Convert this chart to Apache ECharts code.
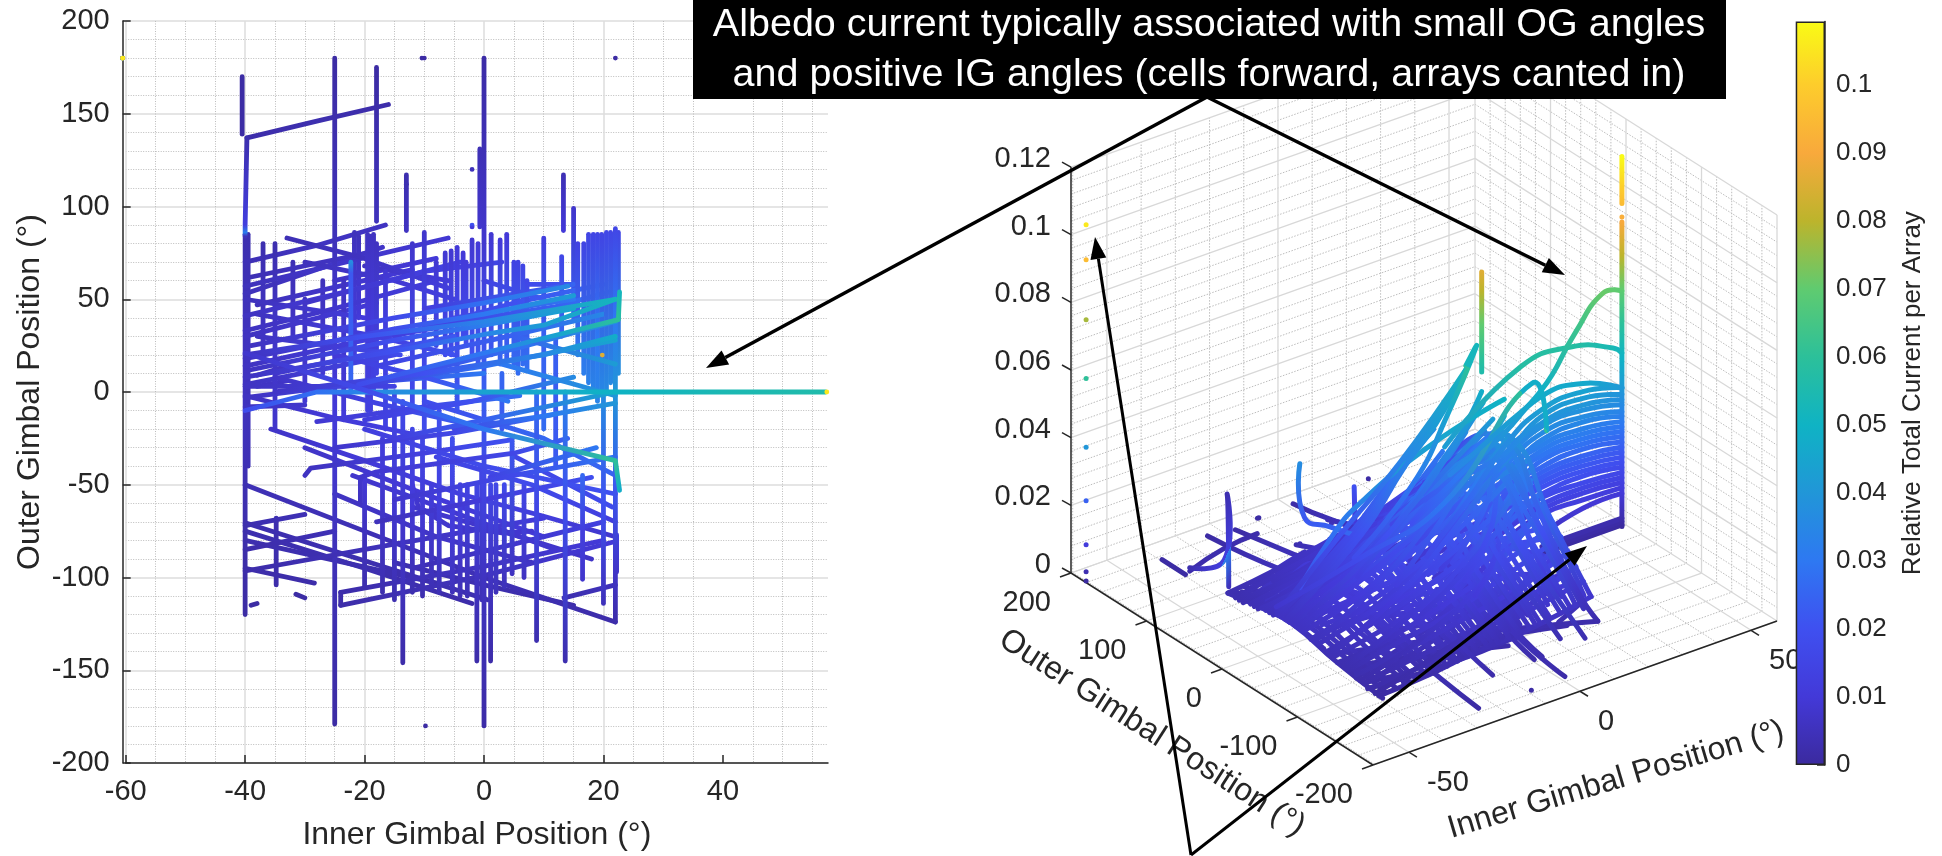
<!DOCTYPE html>
<html>
<head>
<meta charset="utf-8">
<script src="https://cdn.jsdelivr.net/npm/echarts@6/dist/echarts.min.js"></script>
<style>
html,body{margin:0;padding:0;background:#fff;}
#main{width:1942px;height:856px;}
</style>
</head>
<body>
<div id="main"></div>
<script>
var FONT = '"Liberation Sans", Arial, sans-serif';

// colorbar, one colour per 0.01 of current, last one at the top of the bar
var colorbarTicks = [0,0.01,0.02,0.03,0.04,0.05,0.06,0.07,0.08,0.09,0.1,0.1094];
var colorbarColors = ['#3b2a9e','#4339d8','#3f50f0','#2e78f2','#2196d8','#0fb3c4','#2cc09a','#5fcb70','#bcb42c','#f8a93c','#fdcc2c','#f9fb15'];

// 3d axes
var igRange = [-60.5,57.6];
var ogRange = [-200,200];
var zTop = 0.12;
var igTickLabels = [-50,0,50];
var ogTickLabels = [-200,-100,0,100,200];
var zTickLabels = [0,0.02,0.04,0.06,0.08,0.1,0.12];
var igMinor = [-60,-40,-30,-20,-10,10,20,30,40];
var ogMinor = [-180,-160,-140,-120,-80,-60,-40,-20,20,40,60,80,120,140,160,180];
var zMinor = [0.004,0.008,0.012,0.016,0.024,0.028,0.032,0.036,0.044,0.048,0.052,0.056,0.064,0.068,0.072,0.076,0.084,0.088,0.092,0.096,0.104,0.108,0.112,0.116];

// every trace is a list of [inner gimbal, outer gimbal, current]
var verticalTraces = [
  [[-40,85,.003],[-40,40,.005],[-40,0,.006],[-40,-60,.003],[-40,-120,.001]],
  [[-39.5,85,.003],[-39.5,20,.006],[-39.5,-40,.004]],
  [[-40.5,170,.001],[-40.5,139,.001]],
  [[-39.7,137,.003],[-40,90,.012],[-40,86,.032],[-40,84,.005]],
  [[-37,80,.003],[-37,50,.005],[-37,20,.007]],
  [[-35,80,.003],[-35,30,.007],[-35,-20,.008]],
  [[-34.8,-68,.003],[-34.8,-104,.002]],
  [[-32,70,.004],[-32,30,.007]],
  [[-30,50,.006],[-30,-5,.009]],
  [[-27,60,.005],[-27,10,.009]],
  [[-25,180,.001],[-25,80,.005],[-25,30,.009],[-25,-20,.01],[-25,-80,.005],[-25,-179,.001]],
  [[-23.5,60,.006],[-23.5,-15,.011]],
  [[-22.3,70,.037],[-22.3,64,.022],[-22.3,30,.024],[-22.3,0,.026]],
  [[-21.7,86,.005],[-21.7,50,.009],[-21.7,20,.012]],
  [[-21,84,.005],[-21,40,.01]],
  [[-20,-45,.01],[-20,-80,.005],[-20,-105,.003]],
  [[-19.5,85,.006],[-19.5,40,.01],[-19.5,-10,.013]],
  [[-19,84,.006],[-19,40,.01],[-19,-10,.013]],
  [[-18.5,85,.006],[-18.5,40,.011],[-18.5,0,.014]],
  [[-18,175,.001],[-18,92,.005]],
  [[-18,80,.006],[-18,10,.014]],
  [[-17,-25,.012],[-17,-80,.006],[-17,-108,.003]],
  [[-16.5,65,.009],[-16.5,20,.014],[-16.5,-20,.014]],
  [[-15,0,.016],[-15,-60,.009],[-15,-112,.003]],
  [[-13.6,-5,.017],[-13.6,-70,.008],[-13.6,-146,.002]],
  [[-13,117,.003],[-13,87,.006]],
  [[-12,80,.008],[-12,30,.015],[-12,-10,.018]],
  [[-12,-20,.016],[-12,-60,.01],[-12,-108,.003]],
  [[-10.3,-25,.016],[-10.3,-70,.009],[-10.3,-110,.003]],
  [[-10,86,.008],[-10,30,.016],[-10,-20,.018]],
  [[-8.8,-50,.012],[-8.8,-106,.004]],
  [[-8,70,.009],[-8,25,.016]],
  [[-7.5,-10,.02],[-7.5,-60,.012],[-7.5,-108,.004]],
  [[-6.5,75,.009],[-6.5,20,.017]],
  [[-5.5,76,.009],[-5.5,20,.018]],
  [[-5.3,-25,.019],[-5.3,-70,.011],[-5.3,-108,.005]],
  [[-4.5,78,.01],[-4.5,30,.017],[-4.5,-10,.022]],
  [[-4,-50,.014],[-4,-80,.009],[-4,-110,.004]],
  [[-3.5,75,.01],[-3.5,30,.018]],
  [[-3,70,.011],[-3,25,.019]],
  [[-2.8,-50,.014],[-2.8,-110,.004]],
  [[-2,82,.009],[-2,20,.02]],
  [[-1.2,-50,.015],[-1.2,-100,.006],[-1.2,-145,.002]],
  [[-1,80,.01],[-1,15,.022]],
  [[-.7,131,.004],[-.7,89,.008]],
  [[-.4,-40,.016],[-.4,-112,.004]],
  [[0,180,.0015],[0,130,.004],[0,85,.008],[0,40,.018],[0,0,.024],[0,-50,.015],[0,-100,.006],[0,-180,.0015]],
  [[1.1,-50,.016],[1.1,-100,.006],[1.1,-145,.002]],
  [[1.2,85,.009],[1.2,20,.022]],
  [[2,-50,.016],[2,-108,.005]],
  [[2.7,82,.01],[2.7,15,.025]],
  [[3,-20,.022],[3,10,.026]],
  [[3.4,-50,.017],[3.4,-105,.005]],
  [[3.8,85,.01],[3.8,18,.024]],
  [[4.7,-25,.022],[4.7,-98,.006]],
  [[5,70,.014],[5,15,.026]],
  [[5.7,70,.014],[5.7,10,.027]],
  [[6.5,68,.015],[6.5,15,.027]],
  [[6.7,-50,.016],[6.7,-100,.006]],
  [[7.2,60,.016],[7.2,12,.028]],
  [[8.8,0,.027],[8.8,-60,.016],[8.8,-134,.003]],
  [[10,83,.012],[10,30,.024],[10,-20,.027]],
  [[12,30,.024],[12,-40,.022]],
  [[13,73,.016],[13,30,.026]],
  [[13.3,117,.004],[13.3,87,.01]],
  [[13.6,0,.033],[13.6,-60,.019],[13.6,-145,.003]],
  [[15,99,.008],[15,40,.024]],
  [[15.7,80,.014],[15.7,20,.03]],
  [[16.5,-45,.026],[16.5,-73,.013],[16.5,-101,.008]],
  [[16.7,80,.015],[16.7,10,.032]],
  [[17.5,85,.015],[17.5,5,.033]],
  [[18.3,85,.015],[18.3,0,.034]],
  [[19,85,.015],[19,30,.03],[19,-5,.034]],
  [[19.7,85,.015],[19.7,0,.035]],
  [[20,0,.037],[20,-60,.02],[20,-114,.005]],
  [[20.5,86,.016],[20.5,0,.036]],
  [[21.2,86,.016],[21.2,5,.036]],
  [[22,88,.016],[22,40,.03],[22,0,.04],[22,-50,.022],[22,-97,.007],[22,-124,.002]],
  [[22.5,86,.016],[22.5,10,.038]],
  [[22.2,-77,.012],[22.2,-97,.007]],
  [[-2,90,.02],[-2,89,.01]]
];

var risingTraces = [
  [[-39.7,137,.002],[-28,146,.003],[-16,155,.002]],
  [[-40,70,.004],[-28,79,.006],[-16.5,90,.006]],
  [[-40,57,.005],[-22,71,.008],[-6,83,.009]],
  [[-40,53,.005],[-17,78,.007]],
  [[-39,62,.004],[-18,76,.007]],
  [[-38,47,.005],[-12,66,.01]],
  [[-40,41,.006],[-22,55,.011],[-4,70,.014]],
  [[-40,33,.006],[-25,45,.008],[-8,60,.012]],
  [[-40,30,.006],[-18,48,.01]],
  [[-30,48,.007],[-10,65,.012],[3,70,.015]],
  [[-25,60,.007],[-8,72,.01]],
  [[-39,25,.006],[-15,40,.017],[0,48,.028],[14,57,.036]],
  [[-40,18,.006],[-15,34,.018],[0,42,.03],[15,52,.042]],
  [[-39,12,.006],[-15,28,.019],[0,36,.032],[15,45,.046]],
  [[-40,14,.006],[-20,28,.012],[-2,38,.02]],
  [[-40,8,.006],[-15,22,.02],[0,31,.034],[10,36,.042],[22,50,.052]],
  [[-40,20,.006],[-20,30,.02],[0,38,.034],[22,50,.052]],
  [[-40,4,.006],[-15,20,.016]],
  [[-35,10,.008],[-20,20,.016],[-5,30,.022]],
  [[-15,30,.012],[5,48,.02],[20,58,.027]],
  [[-18,14,.014],[4,30,.024],[20,42,.035]],
  [[-14,8,.016],[6,24,.028],[22,38,.04]],
  [[-8,36,.014],[12,46,.024],[21,54,.03]],
  [[-10,45,.012],[15,58,.025]],
  [[-5,40,.015],[15,50,.03]],
  [[7,58,.018],[15,58,.02]],
  [[-38,9,.006],[-33,14,.007]],
  [[-38,3,.006],[-33,6,.007]],
  [[-40,3,.006],[-15,3,.014]],
  [[-40,-8,.006],[-30,-7,.008]],
  [[-40,-3,.006],[-20,5,.016],[0,10,.03]],
  [[-35,0,.007],[-10,10,.02],[10,20,.035],[22,30,.048]],
  [[-20,4,.012],[0,14,.028],[22,28,.045]],
  [[-20,-15,.012],[-2,-5,.02],[15,8,.036]],
  [[-28,-16,.009],[-10,-8,.016],[6,-2,.028]],
  [[-25,-30,.008],[-5,-22,.016],[12,-12,.028]],
  [[-30,-45,.006],[-29,-41,.006],[-10,-33,.013],[4.3,-26,.02]],
  [[-20.7,-60,.006],[-20.7,-46,.008],[-18,-43,.009],[5,-33,.016],[14,-25,.024]],
  [[1,-46,.014],[18.8,-30,.03]],
  [[-18,-70,.005],[0,-58,.011],[18,-46,.019]],
  [[-12,-95,.004],[5,-82,.008],[20,-70,.013]],
  [[-40,-72,.003],[-30,-66,.004]],
  [[-40,-85,.002],[-25,-75,.004]],
  [[-40,-96.5,.002],[-15,-82,.005],[10,-68,.011]],
  [[-24,-108,.002],[0,-94,.006],[20,-80,.01]],
  [[-24,-115,.002],[0,-99,.005],[21.5,-81,.01]],
  [[-24,-108,.002],[-24,-115,.002]],
  [[13.4,-111,.003],[22,-104,.005]],
  [[-15,-58,.008],[5,-45,.017],[22,-35,.03]],
  [[-5,-20,.016],[10,-13,.03],[22,-6,.04]],
  [[-15,-25,.012],[0,-15,.024],[22,0,.045]]
];

var fallingTraces = [
  [[-33,83,.004],[-20,72,.006],[-6,56,.012]],
  [[-30,70,.005],[-15,60,.009],[-5,50,.013]],
  [[-20,68,.006],[-6,60,.011]],
  [[0,60,.014],[10,50,.022]],
  [[-40,50,.005],[-20,40,.011]],
  [[-38,42,.006],[-18,30,.012],[-5,20,.02]],
  [[-38,30,.006],[-14,20,.018]],
  [[-25,20,.01],[-10,8,.02],[4,-5,.03]],
  [[5,30,.024],[22,15,.042]],
  [[-35,8,.007],[-18,-6,.014],[-2,-18,.024]],
  [[-40,-2,.006],[-25,-14,.01],[-10,-24,.014]],
  [[-35.7,-20,.007],[-20,-37,.01],[-4,-55,.012],[10,-67,.012],[22,-78,.008]],
  [[-8,-35,.014],[8,-50,.018],[22,-70,.012]],
  [[-25,-55,.006],[-8,-78,.007],[8,-92,.006]],
  [[-22,-45,.008],[-5,-65,.009],[12,-85,.008]],
  [[-15,-92,.003],[0,-104,.003],[15,-115,.002]],
  [[-40,-50,.004],[-20,-75,.004],[0,-100,.004],[22,-124,.002]],
  [[-40,-70.5,.003],[-20,-91,.003],[.6,-112,.003]],
  [[-40,-75,.003],[-20,-95,.003],[-2,-114,.002]],
  [[-40,-80,.003],[-6.6,-104,.003]],
  [[-40,-95,.002],[-28.4,-103,.002]],
  [[4.7,-34,.016],[21.5,-62,.018]],
  [[3,15,.03],[22,-2,.04]],
  [[-10,-5,.018],[10,-25,.026],[22,-45,.025]],
  [[-20,-20,.012],[0,-40,.018],[22,-55,.02]],
  [[-30,-30,.007],[-10,-55,.01],[10,-78,.01]],
  [[-12,-62,.008],[5,-77,.008],[18,-90,.007]],
  [[-12,-50,.01],[-11,-62,.008],[-6,-72,.008],[3,-76,.008],[8,-75,.009]],
  [[-31.5,-109,.001],[-30,-111,.001]],
  [[-39,-115,.001],[-38,-114,.001]]
];

// the bright lines, both panels
var brightTraces = [
  [[-40,-10,.018],[-28,0,.028],[-21,0,.034],[0,0,.044],[22,0,.05]],
  [[-21,4,.018],[0,21,.03],[12.5,31,.045],[22.5,39,.06],[22.7,54,.052]],
  [[-40,21,.008],[-20,1,.018],[0,-20,.03],[22,-37,.06],[22.7,-53,.048]],
  [[19.8,19.9,.0856],[19.8,19.9,.08],[19.8,19.9,.07],[19.8,19.9,.06],[19.8,19.9,.056]]
];

// single points
var lonePoints = [
  [-13,112,.004],[-10,180,.001],[-10.4,180,.001],[-2,120,.005],[22,180,.001],[-9.8,-180,.001]
];

// points on the far corner of the first plot, stacked in the second
var cornerCurrents = [.0005,.0032,.0112,.0242,.04,.0603,.0777,.0954,.1058];

// second panel only: passes along the inner gimbal, og read at each pass
var igPasses = [
  [[-40,-115,.001],[-25,-115,.002],[-10,-115,.004],[5,-115,.005],[22,-115,.008]],
  [[-40,-105,.002],[-25,-105,.003],[-10,-105,.005],[5,-105,.008],[22,-105,.011]],
  [[-40,-95,.002],[-25,-95,.004],[-10,-95,.006],[5,-95,.009],[22,-95,.014]],
  [[-40,-85,.003],[-25,-85,.005],[-10,-85,.008],[5,-85,.011],[22,-85,.017]],
  [[-40,-75,.003],[-25,-75,.006],[-10,-75,.009],[5,-75,.014],[22,-75,.02]],
  [[-40,-65,.003],[-25,-65,.006],[-10,-65,.01],[5,-65,.015],[22,-65,.022]],
  [[-40,-55,.004],[-25,-55,.007],[-10,-55,.011],[5,-55,.017],[22,-55,.025]],
  [[-40,-45,.004],[-25,-45,.008],[-10,-45,.013],[5,-45,.019],[22,-45,.028]],
  [[-40,-35,.005],[-25,-35,.009],[-10,-35,.014],[5,-35,.021],[22,-35,.031]],
  [[-40,-25,.005],[-25,-25,.009],[-10,-25,.015],[5,-25,.023],[22,-25,.034]],
  [[-40,-15,.006],[-25,-15,.01],[-10,-15,.017],[5,-15,.025],[22,-15,.037]],
  [[-40,-5,.006],[-25,-5,.011],[-10,-5,.018],[5,-5,.026],[22,-5,.039]],
  [[-40,5,.006],[-25,5,.011],[-10,5,.018],[5,5,.026],[22,5,.039]],
  [[-40,15,.006],[-25,15,.01],[-10,15,.017],[5,15,.025],[22,15,.037]],
  [[-40,25,.005],[-25,25,.009],[-10,25,.015],[5,25,.023],[22,25,.034]],
  [[-40,35,.005],[-25,35,.009],[-10,35,.014],[5,35,.021],[22,35,.031]],
  [[-40,45,.004],[-25,45,.008],[-10,45,.013],[5,45,.019],[22,45,.028]],
  [[-40,55,.004],[-25,55,.007],[-10,55,.011],[5,55,.017],[22,55,.025]],
  [[-40,65,.003],[-25,65,.006],[-10,65,.01],[5,65,.015],[22,65,.022]],
  [[-40,75,.003],[-25,75,.006],[-10,75,.009],[5,75,.014],[22,75,.02]],
  [[-40,85,.003],[-25,85,.005],[-10,85,.008],[5,85,.011],[22,85,.017]],
  [[-40,-110,.001],[-20,-98,.003],[0,-86,.007],[22,-72,.018]],
  [[-40,-90,.002],[-20,-78,.005],[0,-66,.012],[22,-52,.026]],
  [[-40,-70,.003],[-20,-58,.008],[0,-46,.016],[22,-32,.033]],
  [[-40,-50,.004],[-20,-38,.01],[0,-26,.021],[22,-12,.038]],
  [[-40,-30,.005],[-20,-18,.012],[0,-6,.024],[22,8,.04]],
  [[-40,-12,.006],[-20,0,.014],[0,12,.025],[22,26,.037]],
  [[-40,10,.006],[-20,22,.013],[0,34,.023],[22,48,.031]],
  [[-40,30,.005],[-20,42,.011],[0,54,.018],[22,68,.024]],
  [[-40,50,.004],[-20,62,.008],[0,74,.013],[22,85,.017]],
  [[-40,-100,.001],[-20,-110,.002],[0,-115,.004]],
  [[-40,-60,.003],[-20,-72,.006],[0,-84,.009],[22,-100,.01]],
  [[-40,-25,.005],[-20,-37,.01],[0,-49,.015],[22,-65,.02]],
  [[-40,10,.006],[-20,-2,.014],[0,-14,.026],[22,-30,.036]],
  [[-40,40,.005],[-20,28,.012],[0,16,.026],[22,0,.04]],
  [[-40,70,.003],[-20,58,.008],[0,46,.017],[22,30,.033]]
];
// second panel only: passes along the outer gimbal
var ogPasses = [
  [[-38,-115,.0013],[-38,-60,.004],[-38,-10,.0065],[-38,40,.005],[-38,85,.0027]],
  [[-35,-115,.0015],[-35,-60,.0045],[-35,-10,.0075],[-35,40,.0056],[-35,85,.003]],
  [[-32,-115,.0017],[-32,-60,.005],[-32,-10,.0085],[-32,40,.0064],[-32,85,.0036]],
  [[-29,-115,.002],[-29,-60,.0057],[-29,-10,.0095],[-29,40,.007],[-29,85,.004]],
  [[-26,-115,.002],[-26,-60,.0063],[-26,-10,.0105],[-26,40,.008],[-26,85,.0044]],
  [[-23,-115,.0024],[-23,-60,.0072],[-23,-10,.012],[-23,40,.009],[-23,85,.005]],
  [[-20,-115,.0026],[-20,-60,.0078],[-20,-10,.013],[-20,40,.01],[-20,85,.0055]],
  [[-17,-115,.003],[-17,-60,.009],[-17,-10,.015],[-17,40,.011],[-17,85,.0063]],
  [[-14,-115,.0032],[-14,-60,.0096],[-14,-10,.016],[-14,40,.012],[-14,85,.0067]],
  [[-11,-115,.0036],[-11,-60,.011],[-11,-10,.018],[-11,40,.0135],[-11,85,.0076]],
  [[-8,-115,.004],[-8,-60,.012],[-8,-10,.02],[-8,40,.015],[-8,85,.0084]],
  [[-5,-115,.0042],[-5,-60,.0126],[-5,-10,.021],[-5,40,.016],[-5,85,.0088]],
  [[-2,-115,.0046],[-2,-60,.014],[-2,-10,.023],[-2,40,.017],[-2,85,.0097]],
  [[1,-115,.005],[1,-60,.015],[1,-10,.025],[1,40,.019],[1,85,.0105]],
  [[4,-115,.0054],[4,-60,.016],[4,-10,.027],[4,40,.02],[4,85,.011]],
  [[7,-115,.0058],[7,-60,.0174],[7,-10,.029],[7,40,.022],[7,85,.012]],
  [[10,-115,.006],[10,-60,.018],[10,-10,.03],[10,40,.0225],[10,85,.0126]],
  [[13,-115,.0064],[13,-60,.019],[13,-10,.032],[13,40,.024],[13,85,.0134]],
  [[16,-115,.0068],[16,-60,.02],[16,-10,.034],[16,40,.0255],[16,85,.014]],
  [[19,-115,.0072],[19,-60,.0216],[19,-10,.036],[19,40,.027],[19,85,.015]],
  [[22,-115,.008],[22,-60,.024],[22,-10,.04],[22,40,.03],[22,85,.017]],
  [[-36.5,-90,.002],[-36.5,-30,.006],[-36.5,30,.006],[-36.5,75,.003]],
  [[-30.5,-110,.002],[-30.5,-40,.007],[-30.5,20,.008],[-30.5,70,.004]],
  [[-24.5,-100,.003],[-24.5,-35,.009],[-24.5,25,.01],[-24.5,80,.005]],
  [[-18.5,-115,.003],[-18.5,-45,.011],[-18.5,15,.014],[-18.5,80,.006]],
  [[-12.5,-105,.004],[-12.5,-35,.014],[-12.5,20,.016],[-12.5,75,.008]],
  [[-6.5,-115,.004],[-6.5,-40,.016],[-6.5,15,.02],[-6.5,80,.009]],
  [[-.5,-108,.005],[-.5,-45,.018],[-.5,10,.024],[-.5,75,.012]],
  [[5.5,-115,.006],[5.5,-40,.021],[5.5,15,.027],[5.5,80,.012]],
  [[11.5,-105,.008],[11.5,-35,.025],[11.5,20,.03],[11.5,80,.014]],
  [[17.5,-115,.007],[17.5,-45,.026],[17.5,10,.035],[17.5,80,.016]],
  [[21,-110,.008],[21,-40,.029],[21,15,.038],[21,85,.017]]
];
// second panel only: the arcs that run into the spike at og 0
var spikeTrace = [[56.4,0,.1094],[56.4,0,.1],[56.4,0,.0955]];
var spikeMainTrace = [[56.4,0,.09],[56.4,0,.08],[56.4,0,.07],[56.4,0,.06],[56.4,0,.05],[56.4,0,.04],[56.4,0,.03],[56.4,0,.02],[56.4,0,.01],[56.4,0,0]];
var spikeDot = [[56.4,0,.0915]];
var sweepArcs = [
  [[6.1,0,.0334],[20.8,0,.0414],[32.9,0,.0488],[42.7,0,.0621],[50.9,0,.071],[56.4,0,.0696]],
  [[4.6,0,.0422],[26.9,0,.0579],[41.8,0,.0584],[53.8,0,.0537],[56.4,0,.0513]],
  [[-2,14,.02],[10,8,.03],[22,0,.04],[33,0,.047],[45,0,.0464],[56.4,0,.041]],
  [[-2,-14,.017],[10,-8,.026],[22,0,.036],[33,0,.043],[45,0,.044],[56.4,0,.041]],
  [[-2,40,.016],[10,25,.025],[22,0,.034],[33,0,.041],[45,0,.042],[56.4,0,.039]],
  [[-2,-40,.016],[10,-25,.024],[22,0,.033],[33,0,.039],[45,0,.04],[56.4,0,.0375]],
  [[-2,8,.015],[10,5,.023],[22,0,.032],[33,0,.038],[45,0,.0385],[56.4,0,.036]],
  [[-2,-8,.014],[10,-5,.022],[22,0,.03],[33,0,.036],[45,0,.0365],[56.4,0,.034]],
  [[-2,56,.014],[10,35,.021],[22,0,.029],[33,0,.034],[45,0,.035],[56.4,0,.0325]],
  [[-2,-56,.013],[10,-35,.02],[22,0,.027],[33,0,.0325],[45,0,.033],[56.4,0,.031]],
  [[-2,25,.012],[10,15,.019],[22,0,.026],[33,0,.031],[45,0,.0315],[56.4,0,.0295]],
  [[-2,-25,.012],[10,-15,.018],[22,0,.025],[33,0,.0295],[45,0,.03],[56.4,0,.028]],
  [[-2,70,.011],[10,45,.017],[22,0,.023],[33,0,.028],[45,0,.0285],[56.4,0,.0265]],
  [[-2,-70,.0105],[10,-45,.016],[22,0,.022],[33,0,.026],[45,0,.027],[56.4,0,.025]],
  [[-2,32,.01],[10,20,.015],[22,0,.021],[33,0,.0245],[45,0,.025],[56.4,0,.0235]],
  [[-2,-32,.009],[10,-20,.014],[22,0,.019],[33,0,.023],[45,0,.0235],[56.4,0,.022]],
  [[-2,16,.0085],[10,10,.013],[22,0,.018],[33,0,.0215],[45,0,.022],[56.4,0,.0205]],
  [[-2,-16,.008],[10,-10,.012],[22,0,.017],[33,0,.02],[45,0,.0205],[56.4,0,.019]],
  [[-2,48,.0075],[10,30,.011],[22,0,.015],[33,0,.018],[45,0,.019],[56.4,0,.0175]],
  [[-2,-48,.007],[10,-30,.01],[22,0,.014],[33,0,.017],[45,0,.017],[56.4,0,.016]],
  [[-2,22,.006],[10,14,.009],[22,0,.013],[33,0,.015],[45,0,.0155],[56.4,0,.0145]],
  [[-2,-22,.0055],[10,-14,.0085],[22,0,.011],[33,0,.0135],[45,0,.014],[56.4,0,.013]],
  [[22,0,.008],[33,0,.012],[45,0,.012],[56.4,0,.0115]],
  [[33,0,.006],[45,0,.0095],[56.4,0,.0098]],
  [[33,0,.0025],[56.4,0,.0025]],
  [[33,0,.0015],[56.4,0,.0015]],
  [[33,0,.0005],[56.4,0,.0005]]
];

// first panel only: the og 0 tail out to the stop
var tailTrace = [[22,0,.05],[40,0,.054],[57.2,0,.056]];
var tailEnd = [[57.4,0,.1058]];

function colorOf(z){
  for (var i=0;i<colorbarTicks.length-1;i++){
    if (z<=colorbarTicks[i+1]){
      var t=(z-colorbarTicks[i])/(colorbarTicks[i+1]-colorbarTicks[i]);
      return echarts.color.lerp(Math.max(t,0),[colorbarColors[i],colorbarColors[i+1]]);
    }
  }
  return colorbarColors[colorbarColors.length-1];
}

// axis pitch of the second panel, in units of its hidden grid
var igStep = [3.421,1.219], ogStep = [-0.755,0.48], zStep = 3383;
function project(ig,og,z){
  var a=ig-igRange[0], b=og-ogRange[0];
  return [a*igStep[0]+b*ogStep[0], a*igStep[1]+b*ogStep[1]+z*zStep];
}

function peak(tr){ return Math.max.apply(null,tr.map(function(p){return p[2];})); }
function byPeak(a,b){ return peak(a)-peak(b); }

var sharedTraces = verticalTraces.concat(risingTraces,fallingTraces,brightTraces,
  lonePoints.map(function(p){return [p];}),
  cornerCurrents.map(function(c){return [[-60.5,180,c]];}));

var leftTraces = sharedTraces.concat([tailTrace,tailEnd]).sort(byPeak);
var rightTraces = sharedTraces.concat(igPasses,ogPasses,sweepArcs,[spikeTrace,spikeMainTrace,spikeDot]).sort(byPeak);

// one smooth polyline per trace, coloured along its length by current
function traceRenderer(traces,view,width,smooth){
  return function(params,api){
    var tr=traces[params.dataIndex];
    var pts=tr.map(function(p){ return api.coord(view(p)); });
    var p0=pts[0], pn=pts[pts.length-1];
    var dx=pn[0]-p0[0], dy=pn[1]-p0[1], len2=dx*dx+dy*dy;
    if (len2<2){
      return {type:'circle',shape:{cx:p0[0],cy:p0[1],r:width/2},style:{fill:colorOf(peak(tr))}};
    }
    var last=0;
    var stops=pts.map(function(q,i){
      var t=((q[0]-p0[0])*dx+(q[1]-p0[1])*dy)/len2;
      last=Math.min(1,Math.max(last,t));
      return {offset:last,color:colorOf(tr[i][2])};
    });
    return {type:'polyline',shape:{points:pts,smooth:smooth},style:{
      lineWidth:width,lineCap:'round',lineJoin:'round',fill:null,
      stroke:new echarts.graphic.LinearGradient(p0[0],p0[1],pn[0],pn[1],stops,true)
    }};
  };
}
function topView(p){ return [p[0],p[1]]; }
function sideView(p){ return project(p[0],p[1],p[2]); }

// walls and floor of the second panel
var frameSegs=[];
function addFrame(p,q,kind){
  var a=project(p[0],p[1],p[2]), b=project(q[0],q[1],q[2]);
  frameSegs.push([a[0],a[1],b[0],b[1],kind]);
}
function addIg(list,kind){ list.forEach(function(v){
  addFrame([v,ogRange[0],0],[v,ogRange[1],0],kind);
  addFrame([v,ogRange[1],0],[v,ogRange[1],zTop],kind);
}); }
function addOg(list,kind){ list.forEach(function(v){
  addFrame([igRange[0],v,0],[igRange[1],v,0],kind);
  addFrame([igRange[1],v,0],[igRange[1],v,zTop],kind);
}); }
function addZ(list,kind){ list.forEach(function(v){
  addFrame([igRange[0],ogRange[1],v],[igRange[1],ogRange[1],v],kind);
  addFrame([igRange[1],ogRange[1],v],[igRange[1],ogRange[0],v],kind);
}); }
addIg(igMinor,1); addOg(ogMinor,1); addZ(zMinor,1);
addIg(igTickLabels,0); addOg(ogTickLabels,0); addZ(zTickLabels,0);
addFrame([igRange[0],ogRange[1],0],[igRange[0],ogRange[1],zTop],2);
addFrame([igRange[0],ogRange[1],0],[igRange[0],ogRange[0],0],2);
addFrame([igRange[0],ogRange[0],0],[igRange[1],ogRange[0],0],2);

// tick marks and tick labels of the second panel
var frameTicks=[];
zTickLabels.forEach(function(v){ frameTicks.push({at:project(igRange[0],ogRange[1],v),dx:-9,dy:-5,text:String(v),tx:-20,ty:-8,align:'right'}); });
ogTickLabels.forEach(function(v){ frameTicks.push({at:project(igRange[0],v,0),dx:-11,dy:4,text:String(v),tx:-20,ty:30,align:'right'}); });
igTickLabels.forEach(function(v){ frameTicks.push({at:project(v,ogRange[0],0),dx:8,dy:5,text:String(v),tx:18,ty:31,align:'left'}); });

function arrow(x1,y1,x2,y2,w){
  var d=Math.sqrt((x2-x1)*(x2-x1)+(y2-y1)*(y2-y1)), ux=(x2-x1)/d, uy=(y2-y1)/d, len=22, hw=8;
  var bx=x2-ux*len, by=y2-uy*len;
  return [
    {type:'line',z:100,shape:{x1:x1,y1:y1,x2:bx,y2:by},style:{stroke:'#000',lineWidth:w}},
    {type:'polygon',z:100,shape:{points:[[x2,y2],[bx-uy*hw,by+ux*hw],[bx+uy*hw,by-ux*hw]]},style:{fill:'#000'}}
  ];
}

var axisColor='#262626';
var labelStyle={color:axisColor,fontSize:29,fontFamily:FONT};
var nameStyle={color:axisColor,fontSize:32,fontFamily:FONT};

var option={
  backgroundColor:'#fff',
  animation:false,
  grid:[
    {left:125.7,top:21,width:702.3,height:745},
    {left:1071,top:23,width:706,height:742},
    {left:1795.7,top:21.4,width:29.3,height:743.6}
  ],
  xAxis:[
    {type:'value',gridIndex:0,min:-60,max:57.6,interval:20,
     name:'Inner Gimbal Position (°)',nameLocation:'middle',nameGap:56,nameTextStyle:nameStyle,
     nameMoveOverlap:false,
     axisLine:{show:true,onZero:false,lineStyle:{color:axisColor,width:1.5}},
     axisTick:{show:true,inside:true,length:8,lineStyle:{color:axisColor,width:1.5},customValues:[-60,-40,-20,0,20,40]},
     axisLabel:Object.assign({margin:14,customValues:[-60,-40,-20,0,20,40]},labelStyle),
     splitLine:{show:true,showMaxLine:false,lineStyle:{color:'#dcdcdc',width:1.5}},
     minorTick:{show:false,splitNumber:4},
     minorSplitLine:{show:true,lineStyle:{color:'#bdbdbd',width:1,type:[1,1.5]}}},
    {type:'value',gridIndex:1,min:-302,max:404,show:false},
    {type:'category',gridIndex:2,data:['bar'],show:false}
  ],
  yAxis:[
    {type:'value',gridIndex:0,min:-200,max:200,interval:50,offset:3,
     name:'Outer Gimbal Position (°)',nameLocation:'middle',nameGap:77,nameTextStyle:nameStyle,
     nameMoveOverlap:false,
     axisLine:{show:true,onZero:false,lineStyle:{color:axisColor,width:1.5}},
     axisTick:{show:true,inside:true,length:8,lineStyle:{color:axisColor,width:1.5}},
     axisLabel:Object.assign({margin:13},labelStyle),
     splitLine:{show:true,lineStyle:{color:'#dcdcdc',width:1.5}},
     minorTick:{show:false,splitNumber:5},
     minorSplitLine:{show:true,lineStyle:{color:'#bdbdbd',width:1,type:[1,1.5]}}},
    {type:'value',gridIndex:1,min:0,max:742,show:false},
    {type:'value',gridIndex:2,min:0,max:0.1094,interval:0.01,position:'right',
     name:'Relative Total Current per Array',nameLocation:'middle',nameGap:75,nameRotate:90,
     nameMoveOverlap:false,
     nameTextStyle:{color:axisColor,fontSize:26,fontFamily:FONT},
     axisLine:{show:true,lineStyle:{color:axisColor,width:1.5}},
     axisTick:{show:true,inside:true,length:8,lineStyle:{color:axisColor,width:1.5},customValues:[0,0.01,0.02,0.03,0.04,0.05,0.06,0.07,0.08,0.09,0.1]},
     axisLabel:{show:true,margin:11,color:axisColor,fontSize:26,fontFamily:FONT,customValues:[0,0.01,0.02,0.03,0.04,0.05,0.06,0.07,0.08,0.09,0.1]},
     splitLine:{show:false}}
  ],
  series:[
    {type:'custom',name:'frame',xAxisIndex:1,yAxisIndex:1,silent:true,clip:false,z:1,data:frameSegs,
     renderItem:function(params,api){
       var a=api.coord([api.value(0),api.value(1)]), b=api.coord([api.value(2),api.value(3)]), kind=api.value(4);
       var st=kind===1?{stroke:'#bdbdbd',lineWidth:1,lineDash:[1.5,1.5]}:kind===0?{stroke:'#d8d8d8',lineWidth:1.3}:{stroke:axisColor,lineWidth:1.5};
       return {type:'line',shape:{x1:a[0],y1:a[1],x2:b[0],y2:b[1]},style:st};
     }},
    {type:'custom',name:'top view',xAxisIndex:0,yAxisIndex:0,silent:true,clip:false,z:3,progressive:0,
     data:leftTraces.map(function(t,i){return [i];}),renderItem:traceRenderer(leftTraces,topView,4.8,0)},
    {type:'custom',name:'3d view',xAxisIndex:1,yAxisIndex:1,silent:true,clip:false,z:3,progressive:0,
     data:rightTraces.map(function(t,i){return [i];}),renderItem:traceRenderer(rightTraces,sideView,5,0.5)},
    {type:'custom',name:'3d ticks',xAxisIndex:1,yAxisIndex:1,silent:true,clip:false,z:4,
     data:frameTicks.map(function(t){return [t.at[0],t.at[1]];}),
     renderItem:function(params,api){
       var t=frameTicks[params.dataIndex], a=api.coord([api.value(0),api.value(1)]);
       return {type:'group',children:[
         {type:'line',shape:{x1:a[0],y1:a[1],x2:a[0]+t.dx,y2:a[1]+t.dy},style:{stroke:axisColor,lineWidth:1.5}},
         {type:'text',style:{x:a[0]+t.tx,y:a[1]+t.ty,text:t.text,align:t.align,verticalAlign:'middle',fill:axisColor,font:'29px '+FONT}}
       ]};
     }},
    {type:'bar',name:'colorbar',xAxisIndex:2,yAxisIndex:2,silent:true,z:10,barWidth:'100%',
     data:[colorbarTicks[colorbarTicks.length-1]],
     itemStyle:{borderColor:axisColor,borderWidth:1.5,
       color:new echarts.graphic.LinearGradient(0,1,0,0,colorbarColors.map(function(c,i){
         return {offset:colorbarTicks[i]/colorbarTicks[colorbarTicks.length-1],color:c};
       }))}}
  ],
  graphic:{elements:[
    {type:'text',z:20,x:1152,y:733,rotation:-0.57,style:{text:'Outer Gimbal Position (°)',align:'center',verticalAlign:'middle',fill:axisColor,font:'32px '+FONT}},
    {type:'text',z:20,x:1616,y:780,rotation:0.288,style:{text:'Inner Gimbal Position (°)',align:'center',verticalAlign:'middle',fill:axisColor,font:'32px '+FONT}},
    {type:'rect',z:100,shape:{x:693,y:0,width:1033,height:99},style:{fill:'#000'}},
    {type:'text',z:101,x:1209,y:25,style:{text:'Albedo current typically associated with small OG angles',align:'center',verticalAlign:'middle',fill:'#fff',font:'39.5px '+FONT}},
    {type:'text',z:101,x:1209,y:75,style:{text:'and positive IG angles (cells forward, arrays canted in)',align:'center',verticalAlign:'middle',fill:'#fff',font:'39.5px '+FONT}}
  ].concat(arrow(1207,97,706,368,3.5),arrow(1207,97,1565,275,3.5),arrow(1191,855,1095,237,3),arrow(1191,855,1587,546,3))}
};

var chart=echarts.init(document.getElementById('main'));
chart.setOption(option);
</script>
</body>
</html>
